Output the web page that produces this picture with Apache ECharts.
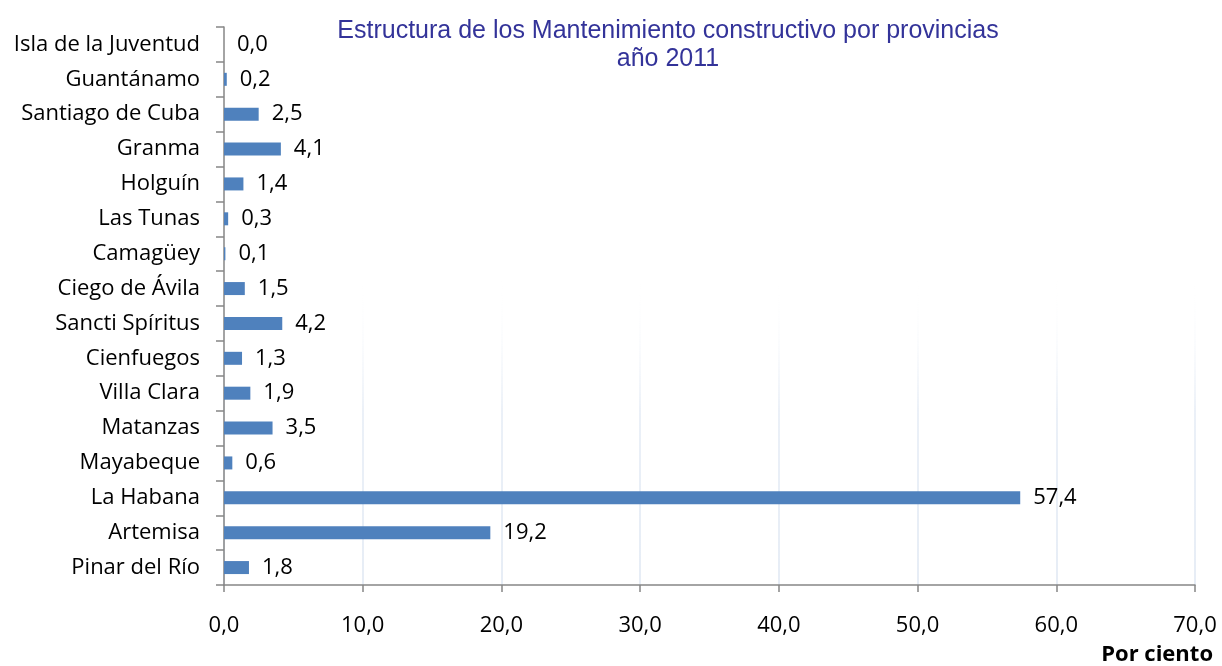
<!DOCTYPE html>
<html><head><meta charset="utf-8">
<script src="https://cdn.jsdelivr.net/npm/echarts@6/dist/echarts.min.js"></script>
<style>html,body{margin:0;padding:0;background:#fff}#c{width:1222px;height:666px}</style>
</head><body><div id="c"></div>
<script>
const categories = ["Pinar del Río","Artemisa","La Habana","Mayabeque","Matanzas","Villa Clara","Cienfuegos","Sancti Spíritus","Ciego de Ávila","Camagüey","Las Tunas","Holguín","Granma","Santiago de Cuba","Guantánamo","Isla de la Juventud"];
const values = [1.8,19.2,57.4,0.6,3.5,1.9,1.3,4.2,1.5,0.1,0.3,1.4,4.1,2.5,0.2,0.0];
const titleText = "Estructura de los Mantenimiento constructivo por provincias\naño 2011";
const axisName = "Por ciento";
const fmt = v => v.toFixed(1).replace('.', ',');
const chart = echarts.init(document.getElementById('c'));
const font = "'Open Sans', sans-serif";
const gridColor = new echarts.graphic.LinearGradient(0, 0, 0, 666, [
  {offset:0, color:'rgba(255,255,255,0)'},
  {offset:0.42, color:'rgba(255,255,255,0)'},
  {offset:0.62, color:'#e4ebf5'},
  {offset:1, color:'#dce5f1'}
], true);
chart.setOption({
  animation:false,
  title:{text:titleText,left:663,top:12,textAlign:'center',textStyle:{fontFamily:"'Liberation Sans', Arial, sans-serif",fontWeight:'normal',fontSize:25,color:'#333399',lineHeight:28}},
  grid:{left:224,right:27,top:27,bottom:80,containLabel:false},
  xAxis:{type:'value',min:0,max:70,interval:10,
    axisLine:{show:true,lineStyle:{color:'#868686',width:1.5}},
    axisTick:{show:true,length:7,lineStyle:{color:'#868686',width:1.5}},
    splitLine:{show:true,lineStyle:{color:gridColor,width:1.5}},
    axisLabel:{formatter:fmt,fontFamily:font,fontSize:22,color:'#000',margin:30},
    name:axisName,nameLocation:'end',nameGap:0,
    nameTextStyle:{fontFamily:font,fontSize:22,fontWeight:'bold',color:'#000',align:'right',verticalAlign:'top',padding:[59,-18,0,0]}
  },
  yAxis:{type:'category',data:categories,
    axisLine:{show:true,lineStyle:{color:'#868686',width:1.5}},
    axisTick:{show:true,length:8,lineStyle:{color:'#868686',width:1.5}},
    axisLabel:{fontFamily:font,fontSize:22,color:'#000',margin:24}
  },
  series:[{type:'bar',data:values,barWidth:13,itemStyle:{color:'#4f81bd'},
    label:{show:true,position:'right',distance:13,formatter:p=>fmt(p.value),fontFamily:font,fontSize:22,color:'#000'}}]
});
</script></body></html>
